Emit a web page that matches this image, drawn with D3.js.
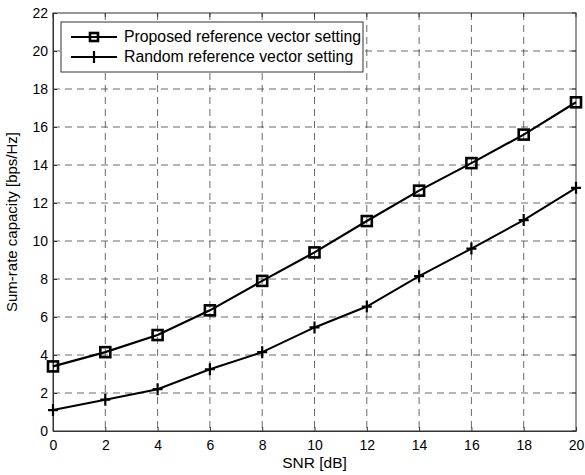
<!DOCTYPE html>
<html>
<head>
<meta charset="utf-8">
<script src="https://cdn.jsdelivr.net/npm/d3@7"></script>
<style>
  body { margin: 0; background: #fff; }
  text { font-family: "Liberation Sans", Arial, sans-serif; }
</style>
</head>
<body>
<div id="chart"></div>
<script>
var snr = [0, 2, 4, 6, 8, 10, 12, 14, 16, 18, 20];
var proposed = [3.4, 4.15, 5.05, 6.35, 7.9, 9.4, 11.05, 12.65, 14.1, 15.6, 17.3];
var randomSet = [1.1, 1.65, 2.2, 3.25, 4.15, 5.45, 6.55, 8.15, 9.6, 11.1, 12.8];
var xTicks = [0, 2, 4, 6, 8, 10, 12, 14, 16, 18, 20];
var yTicks = [0, 2, 4, 6, 8, 10, 12, 14, 16, 18, 20, 22];
var seriesNames = ["Proposed reference vector setting", "Random reference vector setting"];

var width = 585,
    height = 475,
    pL = 53, pR = 576, pT = 13, pB = 431;

var svg = d3.select("#chart")
   .append("svg")
   .attr("width", width)
   .attr("height", height);

var x = d3.scaleLinear().domain([0, 20]).range([pL, pR]);
var y = d3.scaleLinear().domain([0, 22]).range([pB, pT]);

// grid
svg.append("g").selectAll("line")
   .data(xTicks.slice(1, -1))
   .enter().append("line")
   .attr("x1", function(d) { return x(d); })
   .attr("x2", function(d) { return x(d); })
   .attr("y1", pT).attr("y2", pB)
   .attr("stroke", "#444").attr("stroke-width", 0.8)
   .attr("stroke-dasharray", "7,5");

svg.append("g").selectAll("line")
   .data(yTicks.slice(1, -1))
   .enter().append("line")
   .attr("y1", function(d) { return y(d); })
   .attr("y2", function(d) { return y(d); })
   .attr("x1", pL).attr("x2", pR)
   .attr("stroke", "#444").attr("stroke-width", 0.8)
   .attr("stroke-dasharray", "7,5");

// axes
var xAxis = svg.append("g")
   .attr("transform", "translate(0," + pB + ")")
   .call(d3.axisBottom(x).tickValues(xTicks).tickSizeInner(-4).tickSizeOuter(0).tickPadding(9));
var yAxis = svg.append("g")
   .attr("transform", "translate(" + pL + ",0)")
   .call(d3.axisLeft(y).tickValues(yTicks).tickSizeInner(-4).tickSizeOuter(0).tickPadding(5));

[xAxis, yAxis].forEach(function(a) {
   a.selectAll("text").attr("font-size", 14).attr("fill", "#000")
      .style("font-family", "'Liberation Sans', Arial, sans-serif");
   a.selectAll("line").attr("stroke", "#333");
   a.select(".domain").attr("stroke", "#333");
});

// box with top/right ticks
svg.append("rect")
   .attr("x", pL).attr("y", pT)
   .attr("width", pR - pL).attr("height", pB - pT)
   .attr("fill", "none").attr("stroke", "#333").attr("stroke-width", 1);
svg.append("g").selectAll("line")
   .data(xTicks)
   .enter().append("line")
   .attr("x1", function(d) { return x(d); }).attr("x2", function(d) { return x(d); })
   .attr("y1", pT).attr("y2", pT + 4).attr("stroke", "#333");
svg.append("g").selectAll("line")
   .data(yTicks)
   .enter().append("line")
   .attr("y1", function(d) { return y(d); }).attr("y2", function(d) { return y(d); })
   .attr("x1", pR).attr("x2", pR - 4).attr("stroke", "#333");

// axis labels
svg.append("text")
   .attr("x", (pL + pR) / 2).attr("y", 468)
   .attr("text-anchor", "middle").attr("font-size", 15.5)
   .text("SNR [dB]");
svg.append("text")
   .attr("transform", "translate(17," + ((pT + pB) / 2) + ") rotate(-90)")
   .attr("text-anchor", "middle").attr("font-size", 15)
   .text("Sum-rate capacity [bps/Hz]");

// lines
var line = d3.line()
   .x(function(d, i) { return x(snr[i]); })
   .y(function(d) { return y(d); });

svg.append("path").datum(proposed)
   .attr("d", line).attr("fill", "none")
   .attr("stroke", "#000").attr("stroke-width", 2.2);
svg.append("path").datum(randomSet)
   .attr("d", line).attr("fill", "none")
   .attr("stroke", "#000").attr("stroke-width", 2);

function square(g, cx, cy, s) {
   g.append("rect")
      .attr("x", cx - s / 2).attr("y", cy - s / 2)
      .attr("width", s).attr("height", s)
      .attr("fill", "none").attr("stroke", "#000").attr("stroke-width", 2.6);
}
function plus(g, cx, cy) {
   g.append("path")
      .attr("d", "M" + (cx - 5) + "," + cy + "H" + (cx + 5) + "M" + cx + "," + (cy - 6) + "V" + (cy + 6))
      .attr("stroke", "#000").attr("stroke-width", 2.2);
}

var mk = svg.append("g");
proposed.forEach(function(d, i) { square(mk, x(snr[i]), y(d), 10); });
randomSet.forEach(function(d, i) { plus(mk, x(snr[i]), y(d)); });

// legend
var lg = svg.append("g");
lg.append("rect")
   .attr("x", 61).attr("y", 22)
   .attr("width", 302).attr("height", 50)
   .attr("fill", "#fff").attr("stroke", "#333").attr("stroke-width", 1);
var rows = [37, 57];
seriesNames.forEach(function(name, i) {
   var ly = rows[i];
   lg.append("line")
      .attr("x1", 71).attr("x2", 117).attr("y1", ly).attr("y2", ly)
      .attr("stroke", "#000").attr("stroke-width", 2.2);
   if (i === 0) square(lg, 94, ly, 8); else plus(lg, 94, ly);
   lg.append("text")
      .attr("x", 124).attr("y", ly + 5)
      .attr("font-size", 15.8)
      .text(name);
});
</script>
</body>
</html>
